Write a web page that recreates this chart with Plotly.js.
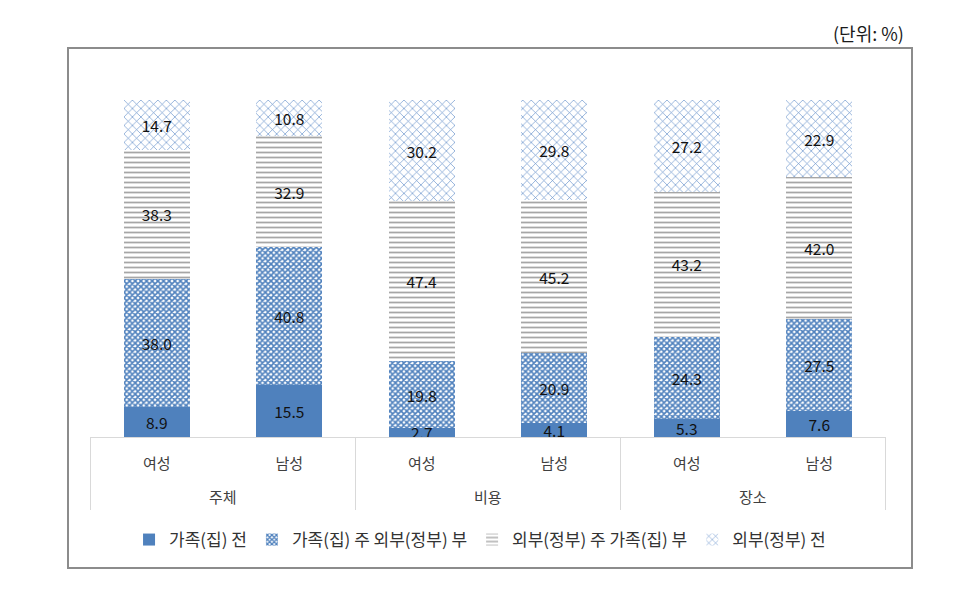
<!DOCTYPE html>
<html>
<head>
<meta charset="utf-8">
<script src="https://cdn.plot.ly/plotly-3.0.1.min.js"></script>
<style>
html,body{margin:0;padding:0;background:#fff;}
#chart{width:974px;height:589px;}
</style>
</head>
<body>
<div id="chart"></div>
<script>
// Data
const groups = ["주체","주체","비용","비용","장소","장소"];
const genders = ["여성","남성","여성","남성","여성","남성"];
const seriesNames = ["가족(집) 전","가족(집) 주 외부(정부) 부","외부(정부) 주 가족(집) 부","외부(정부) 전"];
const famAll = [8.9, 15.5, 2.7, 4.1, 5.3, 7.6];
const famMain = [38.0, 40.8, 19.8, 20.9, 24.3, 27.5];
const extMain = [38.3, 32.9, 47.4, 45.2, 43.2, 42.0];
const extAll = [14.7, 10.8, 30.2, 29.8, 27.2, 22.9];

const FONT = '"Noto Sans CJK KR", "Noto Sans", sans-serif';
const values = [famAll, famMain, extMain, extAll];
const keys = groups.map((g, i) => g + ' ' + genders[i]);
const patterns = [
  {shape: ''},
  {shape: 'x', fgcolor: '#4f81bd', bgcolor: '#ffffff', size: 4, solidity: 0.65, fillmode: 'replace'},
  {shape: '-', fgcolor: '#a6a6a6', bgcolor: '#ffffff', size: 5, solidity: 0.35, fillmode: 'replace'},
  {shape: 'x', fgcolor: '#5f8bc8', bgcolor: '#ffffff', size: 6, solidity: 0.2, fillmode: 'replace'}
];
const colors = ['#4f81bd', '#4f81bd', '#a6a6a6', '#5f8bc8'];

const traces = values.map((v, i) => ({
  type: 'bar',
  name: seriesNames[i],
  x: keys,
  y: v,
  text: v.map(d => d.toFixed(1)),
  textposition: 'inside',
  insidetextanchor: 'middle',
  textangle: 0,
  constraintext: 'none',
  textfont: {family: FONT, size: 15.5, color: '#111111'},
  insidetextfont: {family: FONT, size: 15.5, color: '#111111'},
  marker: {color: colors[i], pattern: patterns[i], line: {width: 0}},
  hoverinfo: 'none'
}));

const W = 796, H = 337; // plot area size
const px = x => (x - 90) / W;
const py = y => (437 - y) / H;

// group spans (derived from the category order)
const uniqueGroups = [...new Set(groups)];
const groupSpans = uniqueGroups.map(g => {
  const idx = groups.map((d, i) => d === g ? i : -1).filter(i => i >= 0);
  return {name: g, start: Math.min(...idx), end: Math.max(...idx)};
});

const shapes = [{
  type: 'rect', xref: 'paper', yref: 'paper',
  x0: px(68), x1: px(912), y0: py(568), y1: py(48),
  line: {color: '#8c8c8c', width: 2}, fillcolor: 'rgba(0,0,0,0)', layer: 'below'
}];
const dividerX = [groupSpans[0].start - 0.5].concat(groupSpans.map(s => s.end + 0.5));
dividerX.forEach(x => shapes.push({
  type: 'line', xref: 'x', yref: 'paper', x0: x, x1: x, y0: 0, y1: py(510),
  line: {color: '#d9d9d9', width: 1}, layer: 'below'
}));

const annotations = [{
  text: '(단위: %)', xref: 'paper', yref: 'paper',
  x: px(906), xanchor: 'right', y: py(33), yanchor: 'middle',
  showarrow: false, font: {family: FONT, size: 18, color: '#1a1a1a'}
}];
groupSpans.forEach(s => annotations.push({
  text: s.name, xref: 'x', yref: 'paper',
  x: (s.start + s.end) / 2, y: py(496), yanchor: 'middle', xanchor: 'center',
  showarrow: false, font: {family: FONT, size: 15, color: '#404040'}
}));

const layout = {
  width: 974, height: 589,
  margin: {l: 90, r: 88, t: 100, b: 152},
  paper_bgcolor: '#ffffff', plot_bgcolor: '#ffffff',
  barmode: 'stack',
  bargap: 0.5,
  showlegend: true,
  legend: {
    orientation: 'h', x: 0.49, xanchor: 'center', y: py(540), yanchor: 'middle',
    traceorder: 'normal',
    font: {family: FONT, size: 17, color: '#333333'},
    itemwidth: 30
  },
  xaxis: {
    type: 'category',
    tickmode: 'array', tickvals: keys, ticktext: genders,
    showline: true, linecolor: '#d9d9d9', linewidth: 1,
    ticks: '', showgrid: false, zeroline: false,
    ticklabelstandoff: 13,
    tickfont: {family: FONT, size: 15, color: '#404040'}
  },
  yaxis: {range: [0, 100], visible: false, showgrid: false, zeroline: false, fixedrange: true},
  shapes: shapes,
  annotations: annotations
};

Plotly.newPlot('chart', traces, layout, {displayModeBar: false, staticPlot: true});
</script>
</body>
</html>
